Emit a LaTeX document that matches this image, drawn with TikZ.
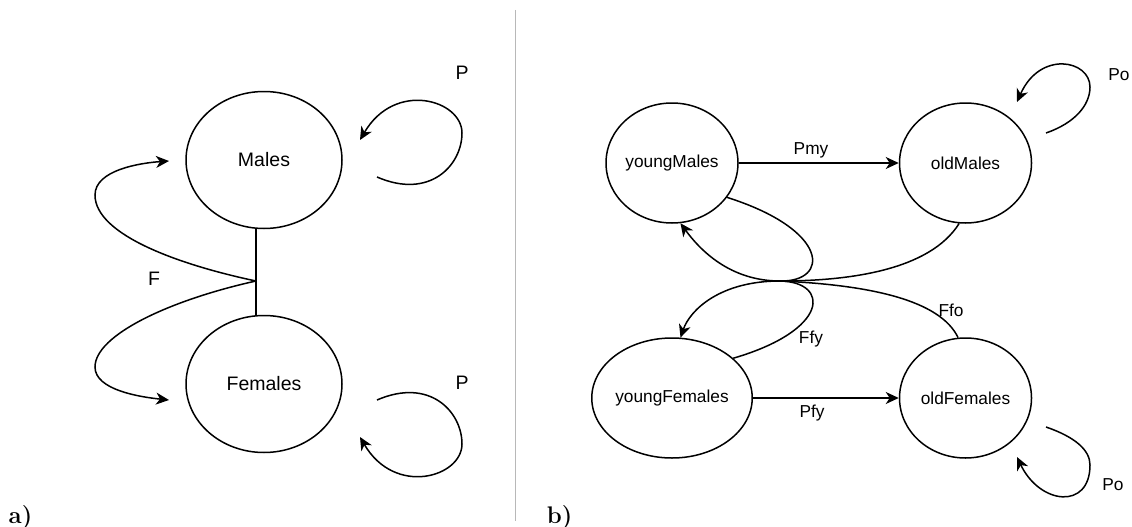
\documentclass[tikz,border=0pt]{standalone}
\usepackage{fontspec}
\newfontfamily\lab{Liberation Sans}
\usetikzlibrary{arrows.meta,shapes.geometric}
\begin{document}
\begin{tikzpicture}[x=1pt,y=-1pt,
  line width=1.5pt,
  state/.style={draw, ellipse, inner sep=0pt},
  bigstate/.style={state, minimum width=156pt, minimum height=137pt, font=\lab\fontsize{19.5}{22}\selectfont},
  smallstate/.style={state, minimum width=132pt, minimum height=120pt, font=\lab\fontsize{17.3}{20}\selectfont},
  biglbl/.style={font=\lab\fontsize{19.5}{22}\selectfont, inner sep=0pt},
  smalllbl/.style={font=\lab\fontsize{17.3}{20}\selectfont, inner sep=0pt},
  arr/.style={-{Stealth[length=13pt,width=12pt,inset=4pt]}},
  panel/.style={font=\bfseries\fontsize{24}{28}\selectfont, inner sep=0pt, anchor=base west},
  sep/.style={draw=black!28, line width=0.8pt}
]
\useasboundingbox (0,0) rectangle (1132,527);

% ---------- panel a ----------
\node[bigstate] (M) at (264,160) {Males};
\node[bigstate] (Fe) at (264,384) {Females};
\coordinate (J1) at (256,281);
\coordinate (mt) at (169,161);
\coordinate (ft) at (169,400);
\draw (J1 |- M.south) -- (J1 |- Fe.north);
\draw[arr] (J1) .. controls (180,265) and (95,235) .. (95,195) .. controls (95,170) and (140,163) .. (mt);
\draw[arr] (J1) .. controls (170,300) and (95,335) .. (95,367) .. controls (95,390) and (140,397) .. (ft);
\node[biglbl] (lF) at (154,279) {F};

\coordinate (p1s) at (377,177);
\coordinate (p1t) at (360,140);
\draw[arr] (p1s) .. controls (430,200) and (462,165) .. (462,133) .. controls (462,100) and (395,80) .. (p1t);
\node[biglbl] (lP1) at (462,73) {P};
\coordinate (p2s) at (377,400);
\coordinate (p2t) at (360,437);
\draw[arr] (p2s) .. controls (430,377) and (462,412) .. (462,444) .. controls (462,477) and (395,497) .. (p2t);
\node[biglbl] (lP2) at (462,383) {P};

% ---------- separator and panel labels ----------
\coordinate (s1) at (515.5,10);
\coordinate (s2) at (515.5,521);
\draw[sep] (s1) -- (s2);
\node[panel] (la) at (8,523.5) {a)};
\node[panel] (lb) at (546,523.5) {b)};

% ---------- panel b ----------
\node[smallstate] (yM) at (672,163) {youngMales};
\node[smallstate] (oM) at (965.5,163) {oldMales};
\node[smallstate] (yF) at (672,398) {youngFemales};
\node[smallstate] (oF) at (965.5,398) {oldFemales};

\draw[arr] (yM.east) -- (oM.west);
\node[smalllbl] (lPmy) at (811,150) {Pmy};
\draw[arr] (yF.east) -- (oF.west);
\node[smalllbl] (lPfy) at (812,413) {Pfy};

\coordinate (J2) at (780,281);
\draw (yM.-32) .. controls (830,230) and (830,282) .. (J2);
\draw[arr] (J2) .. controls (730,281) and (700,250) .. (yM.-82);
\draw (oM.-96) .. controls (930,270) and (850,281) .. (J2);
\draw[arr] (J2) .. controls (720,281) and (690,310) .. (yF.82);
\draw (yF.33) .. controls (830,330) and (830,282) .. (J2);
\draw (oF.97) .. controls (940,300) and (870,285) .. (J2);
\node[smalllbl] (lFfy) at (811,339) {Ffy};
\node[smalllbl] (lFfo) at (951,310) {Ffo};

\coordinate (q1s) at (1046,133);
\coordinate (q1t) at (1017,102);
\draw[arr] (q1s) .. controls (1075,123) and (1090,105) .. (1090,87) .. controls (1090,60) and (1040,50) .. (q1t);
\node[smalllbl] (lPo1) at (1119,75) {Po};
\coordinate (q2s) at (1046,427);
\coordinate (q2t) at (1017,457);
\draw[arr] (q2s) .. controls (1075,437) and (1090,450) .. (1090,465) .. controls (1090,510) and (1040,505) .. (q2t);
\node[smalllbl] (lPo2) at (1113,485) {Po};
\end{tikzpicture}
\end{document}
